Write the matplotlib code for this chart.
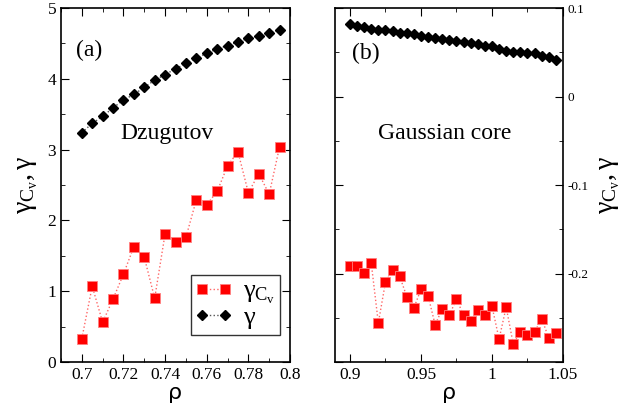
import numpy as np
import matplotlib.pyplot as plt
from matplotlib.ticker import MultipleLocator

# (a) Dzugutov
rho_a = [0.700, 0.705, 0.710, 0.715, 0.720, 0.725, 0.730, 0.735, 0.740, 0.745,
         0.750, 0.755, 0.760, 0.765, 0.770, 0.775, 0.780, 0.785, 0.790, 0.795]
gamma_a = [3.24, 3.37, 3.47, 3.59, 3.70, 3.78, 3.88, 3.98, 4.06, 4.14,
           4.22, 4.29, 4.36, 4.42, 4.47, 4.52, 4.57, 4.61, 4.65, 4.69]
gcv_a = [0.33, 1.07, 0.56, 0.89, 1.24, 1.63, 1.48, 0.90, 1.81, 1.70,
         1.76, 2.29, 2.22, 2.41, 2.77, 2.97, 2.39, 2.66, 2.37, 3.04]

# (b) Gaussian core
rho_b = [0.900, 0.905, 0.910, 0.915, 0.920, 0.925, 0.930, 0.935, 0.940, 0.945,
         0.950, 0.955, 0.960, 0.965, 0.970, 0.975, 0.980, 0.985, 0.990, 0.995,
         1.000, 1.005, 1.010, 1.015, 1.020, 1.025, 1.030, 1.035, 1.040, 1.045]
gamma_b = [0.0817, 0.0802, 0.0783, 0.0768, 0.0753, 0.0746, 0.0738, 0.0719, 0.0712, 0.0704,
           0.0678, 0.0671, 0.0659, 0.0648, 0.0640, 0.0629, 0.0621, 0.0603, 0.0588, 0.0576,
           0.0565, 0.0542, 0.0516, 0.0508, 0.0501, 0.0497, 0.0490, 0.0456, 0.0444, 0.0418]
gcv_b = [-0.191, -0.191, -0.199, -0.188, -0.256, -0.210, -0.196, -0.203, -0.226, -0.239,
         -0.218, -0.225, -0.258, -0.240, -0.247, -0.229, -0.247, -0.254, -0.241, -0.247,
         -0.237, -0.274, -0.238, -0.280, -0.266, -0.270, -0.266, -0.251, -0.273, -0.267]

SERIF = 'Liberation Serif'
plt.rcParams['font.family'] = SERIF
plt.rcParams['mathtext.fontset'] = 'custom'
plt.rcParams['mathtext.rm'] = SERIF
plt.rcParams['mathtext.it'] = SERIF  # upright greek like the original
plt.rcParams['legend.numpoints'] = 2

fig = plt.figure(figsize=(6.23, 4.12), dpi=100)
W, H = 623.0, 412.0
ax1 = fig.add_axes([61 / W, 1 - 362 / H, (290 - 61) / W, (362 - 8) / H])
ax2 = fig.add_axes([335 / W, 1 - 362 / H, (563 - 335) / W, (362 - 8) / H])

YLAB = r'$\gamma_{C_v}, \gamma$'


def draw(ax, x, g, gcv):
    ax.plot(x, gcv, ls=':', color='#ff6666', lw=1.0, marker='s', ms=7,
            mfc='red', mec='#ff8080', mew=0.6, label=r'$\gamma_{C_v}$')
    ax.plot(x, g, ls=':', color='#555555', lw=1.0, marker='D', ms=5,
            mfc='black', mec='black', label=r'$\gamma$')


def style(ax):
    ax.tick_params(which='both', direction='in', top=True, right=True,
                   labelsize=12.5)
    ax.tick_params(which='major', length=6)
    ax.tick_params(which='minor', length=3)


draw(ax1, rho_a, gamma_a, gcv_a)
ax1.set_xlim(0.69, 0.8)
ax1.set_ylim(0, 5)
ax1.set_xticks([0.7, 0.72, 0.74, 0.76, 0.78, 0.8])
ax1.set_xticklabels(['0.7', '0.72', '0.74', '0.76', '0.78', '0.8'])
ax1.xaxis.set_minor_locator(MultipleLocator(0.01))
ax1.yaxis.set_major_locator(MultipleLocator(1))
ax1.yaxis.set_minor_locator(MultipleLocator(0.5))
style(ax1)
ax1.set_xlabel('ρ', family='DejaVu Sans', fontsize=16, labelpad=0)
ax1.set_ylabel(YLAB, fontsize=20, labelpad=5)
ax1.text(0.065, 0.865, '(a)', transform=ax1.transAxes, fontsize=17)
ax1.text(0.26, 0.63, 'Dzugutov', transform=ax1.transAxes, fontsize=17)
leg = ax1.legend(loc='lower right', bbox_to_anchor=(0.955, 0.075), fontsize=19,
                 frameon=True, fancybox=False, edgecolor='black',
                 handlelength=1.45, handletextpad=0.4, borderpad=0.15,
                 labelspacing=0.0, borderaxespad=0)
leg.get_frame().set_linewidth(1.0)

draw(ax2, rho_b, gamma_b, gcv_b)
ax2.set_xlim(0.8895, 1.05)
ax2.set_ylim(-0.3, 0.1)
ax2.set_xticks([0.9, 0.95, 1.0, 1.05])
ax2.set_xticklabels(['0.9', '0.95', '1', '1.05'])
ax2.xaxis.set_minor_locator(MultipleLocator(0.025))
ax2.set_yticks([-0.3, -0.2, -0.1, 0, 0.1])
ax2.set_yticklabels(['', '-0.2', '-0.1', '0', '0.1'])
ax2.yaxis.set_minor_locator(MultipleLocator(0.05))
style(ax2)
ax2.tick_params(axis='y', labelleft=False, labelright=True, labelsize=9.5)
ax2.yaxis.set_label_position('right')
ax2.set_xlabel('ρ', family='DejaVu Sans', fontsize=16, labelpad=0)
ax2.set_ylabel(YLAB, fontsize=20, labelpad=6)
ax2.text(0.075, 0.855, '(b)', transform=ax2.transAxes, fontsize=17)
ax2.text(0.19, 0.63, 'Gaussian core', transform=ax2.transAxes, fontsize=17)

for ax in (ax1, ax2):
    for s in ax.spines.values():
        s.set_linewidth(1.2)

fig.savefig('out.png', dpi=100)
